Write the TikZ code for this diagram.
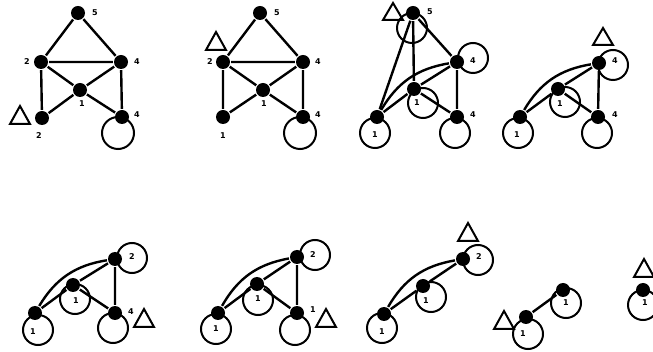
\documentclass[tikz,border=0pt]{standalone}
\usepackage{fontspec}
\newfontfamily\lblfont{DejaVu Sans}
\begin{document}
\begin{tikzpicture}[x=1pt, y=-1pt, line width=2.4pt,
  v/.style={circle, fill, inner sep=0pt, minimum size=14pt},
  lbl/.style={font=\lblfont\bfseries\fontsize{8}{9}\selectfont, inner sep=0pt},
  loopc/.style={line width=2pt},
  tri/.style={line width=2pt, line join=miter}]
  \useasboundingbox (0,0) rectangle (653,352);
  % panel 1
  \node[v] (at) at (78,13) {};
  \node[v] (al) at (41,62) {};
  \node[v] (ar) at (121,62) {};
  \node[v] (ac) at (80,90) {};
  \node[v] (abl) at (42,118) {};
  \node[v] (abr) at (122,117) {};
  \draw (at) -- (al) (at) -- (ar) (al) -- (ar) (al) -- (ac) (ar) -- (ac)
        (al) -- (abl) (abl) -- (ac) (ac) -- (abr) (ar) -- (abr);
  \draw[loopc] (abr.center) ++(-4,16) circle[radius=16pt];
  \node[lbl] at (95,13) {5};
  \node[lbl] at (27,62) {2};
  \node[lbl] at (137,62) {4};
  \node[lbl] at (82,104) {1};
  \node[lbl] at (39,136) {2};
  \node[lbl] at (137,115) {4};
  \draw[tri] (10,124) -- (20,106) -- (30,124) -- cycle;
  % panel 2
  \node[v] (bt) at (260,13) {};
  \node[v] (bl) at (223,62) {};
  \node[v] (br) at (303,62) {};
  \node[v] (bc) at (263,90) {};
  \node[v] (bbl) at (223,117) {};
  \node[v] (bbr) at (303,117) {};
  \draw (bt) -- (bl) (bt) -- (br) (bl) -- (br) (bl) -- (bc) (br) -- (bc)
        (bl) -- (bbl) (bbl) -- (bc) (bc) -- (bbr) (br) -- (bbr);
  \draw[loopc] (bbr.center) ++(-3,16) circle[radius=16pt];
  \node[lbl] at (277,13) {5};
  \node[lbl] at (210,62) {2};
  \node[lbl] at (318,62) {4};
  \node[lbl] at (264,104) {1};
  \node[lbl] at (223,136) {1};
  \node[lbl] at (318,115) {4};
  \draw[tri] (206,50) -- (216,32) -- (226,50) -- cycle;
  % panel 3
  \node[v] (ct) at (413,13) {};
  \node[v] (cr) at (457,62) {};
  \node[v] (cc) at (414,89) {};
  \node[v] (cbl) at (377,117) {};
  \node[v] (cbr) at (457,117) {};
  \draw (ct) -- (cbl) (ct) -- (cc) (ct) -- (cr) (cr) -- (cc) (cr) -- (cbr)
        (cc) -- (cbl) (cc) -- (cbr);
  \draw (cbl) to[bend left=25] (cr);
  \draw[loopc] (ct.center) ++(-1,15) circle[radius=15pt];
  \draw[loopc] (cr.center) ++(16,-4) circle[radius=15pt];
  \draw[loopc] (cc.center) ++(9,14) circle[radius=15pt];
  \draw[loopc] (cbl.center) ++(-2,16) circle[radius=15pt];
  \draw[loopc] (cbr.center) ++(-2,16) circle[radius=15pt];
  \node[lbl] at (430,12) {5};
  \node[lbl] at (473,61) {4};
  \node[lbl] at (417,103) {1};
  \node[lbl] at (375,135) {1};
  \node[lbl] at (473,115) {4};
  \draw[tri] (383,20) -- (393,3) -- (403,20) -- cycle;
  % panel 4
  \node[v] (dr) at (599,63) {};
  \node[v] (dc) at (558,89) {};
  \node[v] (dbl) at (520,117) {};
  \node[v] (dbr) at (598,117) {};
  \draw (dc) -- (dbl) (dc) -- (dr) (dc) -- (dbr) (dr) -- (dbr);
  \draw (dbl) to[bend left=25] (dr);
  \draw[loopc] (dr.center) ++(14,2) circle[radius=15pt];
  \draw[loopc] (dc.center) ++(7,13) circle[radius=15pt];
  \draw[loopc] (dbl.center) ++(-2,16) circle[radius=15pt];
  \draw[loopc] (dbr.center) ++(-1,16) circle[radius=15pt];
  \node[lbl] at (615,61) {4};
  \node[lbl] at (560,104) {1};
  \node[lbl] at (517,135) {1};
  \node[lbl] at (615,115) {4};
  \draw[tri] (593,45) -- (603,28) -- (613,45) -- cycle;
  % panel 5
  \node[v] (eu) at (115,259) {};
  \node[v] (ec) at (73,285) {};
  \node[v] (ebl) at (35,313) {};
  \node[v] (ebr) at (115,313) {};
  \draw (ec) -- (ebl) (ec) -- (eu) (ec) -- (ebr) (eu) -- (ebr);
  \draw (ebl) to[bend left=25] (eu);
  \draw[loopc] (eu.center) ++(17,-1) circle[radius=15pt];
  \draw[loopc] (ec.center) ++(2,14) circle[radius=15pt];
  \draw[loopc] (ebl.center) ++(3,17) circle[radius=15pt];
  \draw[loopc] (ebr.center) ++(-2,15) circle[radius=15pt];
  \node[lbl] at (132,257) {2};
  \node[lbl] at (76,301) {1};
  \node[lbl] at (33,332) {1};
  \node[lbl] at (131,312) {4};
  \draw[tri] (134,327) -- (144,309) -- (154,327) -- cycle;
  % panel 6
  \node[v] (fu) at (297,257) {};
  \node[v] (fc) at (257,284) {};
  \node[v] (fbl) at (218,313) {};
  \node[v] (fbr) at (297,313) {};
  \draw (fc) -- (fbl) (fc) -- (fu) (fc) -- (fbr) (fu) -- (fbr);
  \draw (fbl) to[bend left=25] (fu);
  \draw[loopc] (fu.center) ++(18,-2) circle[radius=15pt];
  \draw[loopc] (fc.center) ++(1,16) circle[radius=15pt];
  \draw[loopc] (fbl.center) ++(-2,16) circle[radius=15pt];
  \draw[loopc] (fbr.center) ++(-2,17) circle[radius=15pt];
  \node[lbl] at (313,255) {2};
  \node[lbl] at (258,299) {1};
  \node[lbl] at (216,329) {1};
  \node[lbl] at (313,310) {1};
  \draw[tri] (316,327) -- (326,309) -- (336,327) -- cycle;
  % panel 7
  \node[v] (gu) at (463,259) {};
  \node[v] (gc) at (423,286) {};
  \node[v] (gbl) at (384,314) {};
  \draw (gc) -- (gbl) (gc) -- (gu);
  \draw (gbl) to[bend left=25] (gu);
  \draw[loopc] (gu.center) ++(15,1) circle[radius=15pt];
  \draw[loopc] (gc.center) ++(8,11) circle[radius=15pt];
  \draw[loopc] (gbl.center) ++(-2,14) circle[radius=15pt];
  \node[lbl] at (479,257) {2};
  \node[lbl] at (426,301) {1};
  \node[lbl] at (382,332) {1};
  \draw[tri] (458,241) -- (468,223) -- (478,241) -- cycle;
  % panel 8
  \node[v] (hu) at (563,290) {};
  \node[v] (hl) at (526,317) {};
  \draw (hl) -- (hu);
  \draw[loopc] (hu.center) ++(3,13) circle[radius=15pt];
  \draw[loopc] (hl.center) ++(2,17) circle[radius=15pt];
  \node[lbl] at (566,303) {1};
  \node[lbl] at (523,334) {1};
  \draw[tri] (494,329) -- (504,311) -- (514,329) -- cycle;
  % panel 9
  \node[v] (iu) at (643,290) {};
  \draw[loopc] (iu.center) ++(0,15) circle[radius=15pt];
  \node[lbl] at (645,303) {1};
  \draw[tri] (634,277) -- (644,259) -- (654,277) -- cycle;
\end{tikzpicture}
\end{document}
